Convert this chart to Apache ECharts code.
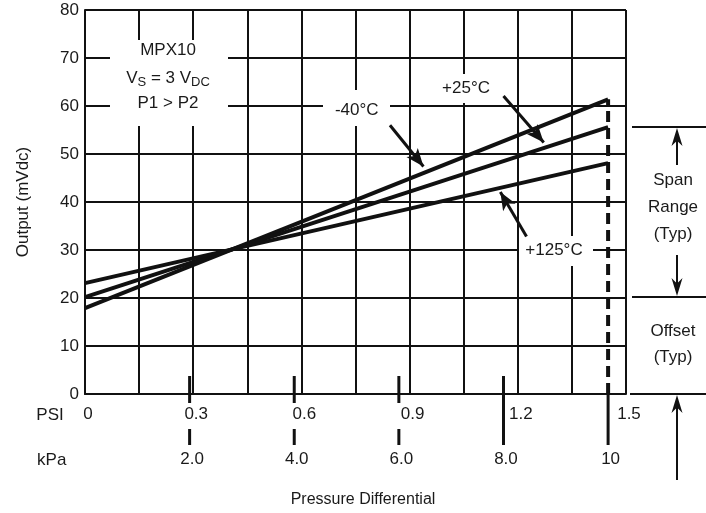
<!DOCTYPE html>
<html><head><meta charset="utf-8">
<script src="https://cdn.jsdelivr.net/npm/echarts@6/dist/echarts.min.js"></script>
<style>html,body{margin:0;padding:0;background:#fff}#c{width:706px;height:513px}</style>
</head><body><div id="c"></div>
<script>
// ---- data ----
const kpaPoints = [0, 10];
const outM40 = [17.9, 61.4];
const out25 = [20.2, 55.6];
const out125 = [23.1, 48.1];
const psiMax = 1.5;
const kpaPerPsi = 6.894757;
const psiTicks = [0, 0.3, 0.6, 0.9, 1.2, 1.5];
const psiLabels = ['0', '0.3', '0.6', '0.9', '1.2', '1.5'];
const kpaTicks = [2, 4, 6, 8, 10];
const kpaLabels = ['2.0', '4.0', '6.0', '8.0', '10'];
const arrowM40 = [[5.83, 56.0], [6.47, 47.4]];
const arrow25 = [[8.00, 62.1], [8.77, 52.4]];
const arrow125 = [[8.44, 32.8], [7.94, 42.1]];

const FONT = '"Liberation Sans", Arial, sans-serif';
const INK = '#111';
const TXT = '#1a1a1a';

const chart = echarts.init(document.getElementById('c'), null, {renderer: 'canvas'});

function lookup(ticks, labels, v) {
  for (let i = 0; i < ticks.length; i++) if (Math.abs(ticks[i] - v) < 1e-6) return labels[i];
  return '';
}
function lineData(ys) { return kpaPoints.map((x, i) => [x, ys[i]]); }

const lineStyle = {color: INK, width: 4};

chart.setOption({
  animation: false,
  grid: {left: 85, right: 80, top: 10, bottom: 119, containLabel: false, outerBoundsMode: 'none'},
  xAxis: [
    {
      type: 'value', min: 0, max: psiMax, interval: 0.15, position: 'bottom',
      axisLine: {show: true, onZero: false, lineStyle: {color: INK, width: 2}},
      axisTick: {show: false},
      splitLine: {show: true, lineStyle: {color: INK, width: 2}},
      axisLabel: {
        margin: 12, fontSize: 17, fontFamily: FONT, color: TXT, padding: [0, 0, 0, 6],
        formatter: v => lookup(psiTicks, psiLabels, v)
      }
    },
    {
      type: 'value', min: 0, max: psiMax * kpaPerPsi, interval: 2, position: 'bottom',
      axisLine: {show: false}, axisTick: {show: false}, splitLine: {show: false},
      axisLabel: {
        margin: 57, fontSize: 17, fontFamily: FONT, color: TXT, padding: [0, 0, 0, 5],
        formatter: v => lookup(kpaTicks, kpaLabels, v)
      }
    }
  ],
  yAxis: {
    type: 'value', min: 0, max: 80, interval: 10,
    axisLine: {show: true, onZero: false, lineStyle: {color: INK, width: 2}},
    axisTick: {show: false},
    splitLine: {show: true, lineStyle: {color: INK, width: 2}},
    axisLabel: {margin: 6, fontSize: 17, fontFamily: FONT, color: TXT}
  },
  series: [
    {
      type: 'line', xAxisIndex: 1, data: lineData(outM40), symbol: 'none', lineStyle, z: 5,
      markLine: {
        silent: true, symbol: ['none', 'arrow'], symbolSize: [11, 18],
        lineStyle: {color: INK, width: 3, type: 'solid'}, label: {show: false},
        data: [arrowM40, arrow25, arrow125].map(a => [{coord: a[0]}, {coord: a[1]}])
      }
    },
    {type: 'line', xAxisIndex: 1, data: lineData(out25), symbol: 'none', lineStyle, z: 5},
    {type: 'line', xAxisIndex: 1, data: lineData(out125), symbol: 'none', lineStyle, z: 5},
    {
      type: 'line', xAxisIndex: 1, symbol: 'none', z: 4,
      data: [[kpaPoints[1], 0], [kpaPoints[1], outM40[1]]],
      lineStyle: {color: INK, width: 4, type: [11, 6]}
    },
    {
      type: 'custom', xAxisIndex: 1, clip: false, z: 4,
      data: kpaTicks.map((v, i) => [v, i]),
      encode: {x: 0, y: -1},
      renderItem(params, api) {
        const v = api.value(0), idx = api.value(1);
        const p = api.coord([v, 0]);
        const segs = idx < 3 ? [[-18, 9], [35, 51]] : (idx === 3 ? [[-18, 51]] : [[0, 51]]);
        return {
          type: 'group',
          children: segs.map(s => ({
            type: 'line',
            shape: {x1: p[0], y1: p[1] + s[0], x2: p[0], y2: p[1] + s[1]},
            style: {stroke: INK, lineWidth: 3}
          }))
        };
      }
    }
  ]
});

// ---- annotations ----
const yPix = v => chart.convertToPixel({yAxisIndex: 0}, v);
const spanTop = yPix(out25[1]);
const offTop = yPix(out25[0]);
const base = yPix(0);

function txt(text, x, y, size, extra) {
  return Object.assign({
    type: 'text', z: 3, x: x, y: y,
    style: {text: text, x: 0, y: 0, fill: TXT, font: size + 'px ' + FONT,
      textAlign: 'center', textVerticalAlign: 'middle', align: 'center', verticalAlign: 'middle'}
  }, extra || {});
}
function box(x, y, w, h) {
  return {type: 'rect', z: 1, shape: {x, y, width: w, height: h}, style: {fill: '#fff'}};
}
function hline(x1, x2, y) {
  return {type: 'line', z: 3, shape: {x1, y1: y, x2, y2: y}, style: {stroke: INK, lineWidth: 2}};
}
function arrow(x, yFrom, yTo) {
  const dir = yTo < yFrom ? -1 : 1;
  const hl = 18, hw = 5.5;
  return [
    {type: 'line', z: 3, shape: {x1: x, y1: yFrom, x2: x, y2: yTo - dir * hl * 0.6}, style: {stroke: INK, lineWidth: 2}},
    {type: 'polygon', z: 3, shape: {points: [[x, yTo], [x - hw, yTo - dir * hl], [x, yTo - dir * hl * 0.7], [x + hw, yTo - dir * hl]]}, style: {fill: INK}}
  ];
}

const vsText = {
  type: 'text', z: 3, x: 168, y: 78,
  style: {
    text: '{n|V}{s|S}{n| = 3 V}{s|DC}', x: 0, y: 0,
    textAlign: 'center', textVerticalAlign: 'middle', align: 'center', verticalAlign: 'middle',
    rich: {
      n: {fontSize: 17, fontFamily: FONT, fill: TXT, color: TXT, lineHeight: 20},
      s: {fontSize: 13, fontFamily: FONT, fill: TXT, color: TXT, lineHeight: 20, padding: [9, 0, 0, 0]}
    }
  }
};

const els = [
  box(110, 40, 118, 86),
  txt('MPX10', 168, 50, 17),
  vsText,
  txt('P1 > P2', 168, 103, 17),
  box(323, 90, 67, 36),
  txt('-40°C', 356.7, 110, 17),
  box(432, 74, 68, 29),
  txt('+25°C', 466, 88, 17),
  box(519, 236, 74, 30),
  txt('+125°C', 554, 250, 17),
  txt('PSI', 50, 415, 17),
  txt('kPa', 51.7, 460, 17),
  txt('Pressure Differential', 363, 500, 16),
  txt('Output (mVdc)', 23, 202, 17, {rotation: Math.PI / 2}),
  hline(632, 706, spanTop),
  hline(632, 706, offTop),
  hline(630, 706, base),
  ...arrow(677, 165, spanTop + 1),
  ...arrow(677, 255, offTop - 1),
  ...arrow(677, 480, base + 1),
  txt('Span', 673, 180, 17),
  txt('Range', 673, 207, 17),
  txt('(Typ)', 673, 234, 17),
  txt('Offset', 673, 331, 17),
  txt('(Typ)', 673, 357, 17)
];
chart.setOption({graphic: {elements: els}});
</script>
</body></html>
